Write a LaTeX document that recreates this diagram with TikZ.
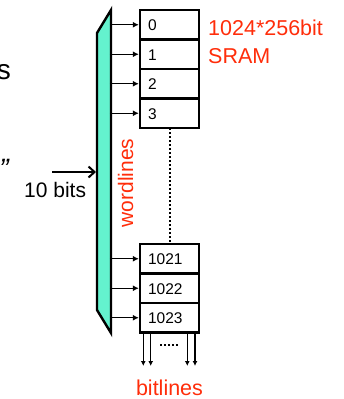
\documentclass[tikz,border=0pt]{standalone}
\usepackage{fontspec}
\setmainfont{Liberation Sans}
\usetikzlibrary{arrows.meta}
\definecolor{srred}{RGB}{255,45,10}
\definecolor{decfill}{RGB}{100,242,206}
\tikzset{
  rowbox/.style={draw=black, line width=2.3pt, minimum width=59pt, minimum height=29.5pt, inner sep=0pt},
  rowlabel/.style={anchor=base west, inner sep=0pt, font=\fontsize{15.5}{17}\selectfont},
  wordarrow/.style={line width=1.3pt, -{Latex[length=6pt,width=6pt]}},
  bitarrow/.style={line width=1.3pt, -{Latex[length=5pt,width=5pt]}},
  redtext/.style={text=srred, inner sep=0pt, font=\fontsize{21.5}{24}\selectfont},
  blacktext/.style={text=black, inner sep=0pt, font=\fontsize{21}{24}\selectfont},
}
\begin{document}
\begin{tikzpicture}[x=1pt,y=-1pt]
\useasboundingbox (0,0) rectangle (343,399);
% decoder
\draw[line width=2.4pt, fill=decfill, line join=miter] (97,33) -- (111,10) -- (111,333) -- (97,310) -- cycle;
% rows
\node[rowbox] (r0) at (169.5,24.75) {};
\node[rowbox] (r1) at (169.5,54.25) {};
\node[rowbox] (r2) at (169.5,83.75) {};
\node[rowbox] (r3) at (169.5,113.25) {};
\node[rowbox] (r1021) at (169.5,258.75) {};
\node[rowbox] (r1022) at (169.5,288.25) {};
\node[rowbox] (r1023) at (169.5,317.75) {};
\foreach \n in {0,1,2,3,1021,1022,1023}{
  \node[rowlabel] (l\n) at ([xshift=9pt,yshift=-5.8pt]r\n.west) {\n};
  \coordinate (d\n) at ([xshift=-29pt]r\n.west);
  \draw[wordarrow] (d\n) -- (r\n.west);
}
% dotted continuation
\coordinate (dtop) at (170,128);
\coordinate (dbot) at (170,244);
\draw[line width=2pt, dash pattern=on 2pt off 2pt] (dtop) -- (dbot);
% bitlines
\foreach \x [count=\i] in {143.3,150.7,187.3,195}{
  \coordinate (bs\i) at (\x,332);
  \coordinate (be\i) at (\x,366);
  \draw[bitarrow] (bs\i) -- (be\i);
}
\coordinate (ds) at (160,345);
\coordinate (de) at (178,345);
\draw[line width=2pt, dash pattern=on 2pt off 2pt] (ds) -- (de);
% texts
\node[redtext, anchor=base west] (title1) at (208,35) {1024*256bit};
\node[redtext, anchor=base west] (title2) at (208,63) {SRAM};
\node[redtext, anchor=base, rotate=90, font=\fontsize{21}{24}\selectfont] (wl) at (133,183) {wordlines};
\node[redtext, anchor=base, font=\fontsize{21.5}{24}\selectfont] (bl) at (169.5,395) {bitlines};
\node[blacktext, anchor=base west] (tb) at (24,197) {10 bits};
\coordinate (ain) at (52,172);
\coordinate (aout) at (96,172);
\draw[line width=2pt, -{Straight Barb[length=6pt,width=11pt]}] (ain) -- (aout);
\node[blacktext, anchor=base east, font=\fontsize{28}{30}\selectfont] (cs) at (11,79) {s};
\node[blacktext, anchor=base east, font=\fontsize{28}{30}\selectfont\itshape] (cq) at (9,178) {”};
\end{tikzpicture}
\end{document}
